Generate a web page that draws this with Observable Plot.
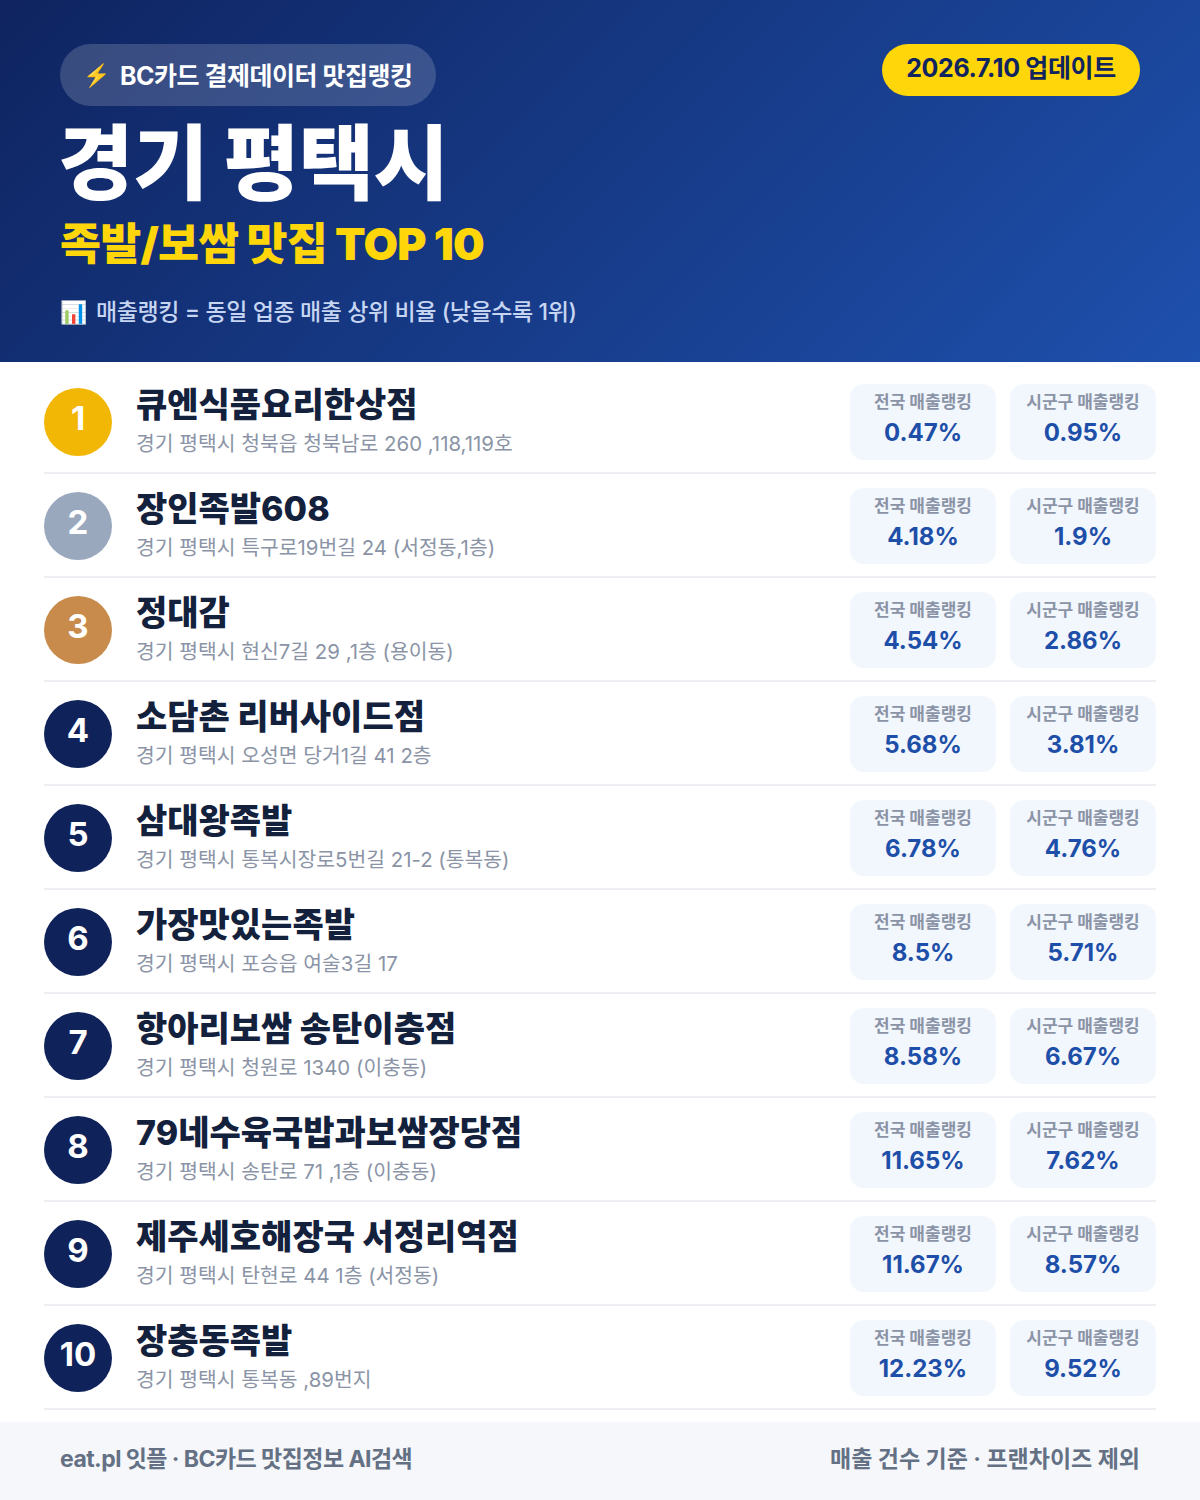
<!DOCTYPE html>
<html lang="ko">
<head>
<meta charset="utf-8">
<script src="https://cdn.jsdelivr.net/npm/d3@7"></script>
<script src="https://cdn.jsdelivr.net/npm/@observablehq/plot@0.6"></script>
<style>
  html,body{margin:0;padding:0;background:#fff;font-family:Inter,"Noto Sans CJK KR","Noto Sans",sans-serif;}
  #page{width:1200px;height:1500px;position:relative;overflow:hidden;}
  #head{position:absolute;left:0;top:0;width:1200px;height:362px;background:linear-gradient(135deg,#0f2460 0%,#1e50ad 100%);}
  #head div{position:absolute;white-space:nowrap;}
  #pill{left:60px;top:44px;width:376px;height:62px;border-radius:31px;background:rgba(255,255,255,.17);}
  #pillIcon{left:83px;top:58px;font-size:22px;line-height:34px;color:#ffc83d;}
  #pillText{left:120px;top:58px;font-size:25px;line-height:36px;font-weight:700;color:#fff;letter-spacing:-.5px;}
  #date{left:882px;top:44px;width:258px;height:52px;line-height:49px;border-radius:26px;background:#ffd60a;color:#10245f;font-size:25px;font-weight:700;text-align:center;letter-spacing:-.35px;}
  #title{left:58px;top:118px;font-size:82px;line-height:92px;font-weight:900;color:#fff;letter-spacing:-.5px;}
  #sub{left:60px;top:214px;font-size:44.6px;line-height:60px;font-weight:900;color:#ffd60a;letter-spacing:-.8px;}
  #noteIcon{left:60px;top:295px;font-size:22px;line-height:34px;}
  #note{left:96px;top:295px;font-size:23px;line-height:34px;font-weight:500;color:#c6d6f2;letter-spacing:-.4px;}
  #chart{position:absolute;left:0;top:362px;}
  #chart svg{display:block;}
  #foot{position:absolute;left:0;top:1422px;width:1200px;height:78px;background:#f5f7fb;color:#647084;font-size:23px;font-weight:700;line-height:75px;}
  #foot span{position:absolute;white-space:nowrap;}
</style>
</head>
<body>
<div id="page">
  <div id="head">
    <div id="pill"></div>
    <div id="pillIcon">⚡</div>
    <div id="pillText">BC카드 결제데이터 맛집랭킹</div>
    <div id="date">2026.7.10 업데이트</div>
    <div id="title">경기 평택시</div>
    <div id="sub">족발/보쌈 맛집 TOP 10</div>
    <div id="noteIcon">📊</div>
    <div id="note">매출랭킹 = 동일 업종 매출 상위 비율 (낮을수록 1위)</div>
  </div>
  <div id="chart"></div>
  <div id="foot">
    <span style="left:60px;letter-spacing:-.55px">eat.pl 잇플 · BC카드 맛집정보 AI검색</span>
    <span style="right:60px;letter-spacing:0">매출 건수 기준 · 프랜차이즈 제외</span>
  </div>
</div>
<script>
const ranks = [1,2,3,4,5,6,7,8,9,10];
const names = ["큐엔식품요리한상점","장인족발608","정대감","소담촌 리버사이드점","삼대왕족발","가장맛있는족발","항아리보쌈 송탄이충점","79네수육국밥과보쌈장당점","제주세호해장국 서정리역점","장충동족발"];
const addresses = ["경기 평택시 청북읍 청북남로 260 ,118,119호","경기 평택시 특구로19번길 24 (서정동,1층)","경기 평택시 현신7길 29 ,1층 (용이동)","경기 평택시 오성면 당거1길 41 2층","경기 평택시 통복시장로5번길 21-2 (통복동)","경기 평택시 포승읍 여술3길 17","경기 평택시 청원로 1340 (이충동)","경기 평택시 송탄로 71 ,1층 (이충동)","경기 평택시 탄현로 44 1층 (서정동)","경기 평택시 통복동 ,89번지"];
const nationalPct = ["0.47%","4.18%","4.54%","5.68%","6.78%","8.5%","8.58%","11.65%","11.67%","12.23%"];
const sigunguPct = ["0.95%","1.9%","2.86%","3.81%","4.76%","5.71%","6.67%","7.62%","8.57%","9.52%"];
const badgeColors = ["#f2b705","#9aa8be","#c98b4b","#0f2259","#0f2259","#0f2259","#0f2259","#0f2259","#0f2259","#0f2259"];
const cardLabels = ["전국 매출랭킹","시군구 매출랭킹"];

const rows = ranks.map((rank,i)=>({rank,name:names[i],address:addresses[i],national:nationalPct[i],sigungu:sigunguPct[i],color:badgeColors[i]}));
const FONT = 'Inter,"Noto Sans CJK KR","Noto Sans",sans-serif';
const CARD1 = [850,996], CARD2 = [1010,1156];
const mid = a => (a[0]+a[1])/2;

const cardMarks = (range,label,key) => [
  Plot.barX(rows,{x1:()=>range[0],x2:()=>range[1],y:"rank",fill:"#f2f6fd",insetTop:14,insetBottom:14,rx:14}),
  Plot.text(rows,{x:()=>mid(range),y:"rank",text:()=>label,dx:-0.5,dy:-20,fontSize:17,fontWeight:700,fill:"#8a94a6",fontFamily:FONT}),
  Plot.text(rows,{x:()=>mid(range),y:"rank",text:key,dx:-0.5,dy:11,fontSize:24,fontWeight:700,letterSpacing:"-0.4px",fill:"#1e4fa8",fontFamily:FONT})
];

const chart = Plot.plot({
  width:1200,height:1060,
  marginTop:0,marginRight:0,marginBottom:0,marginLeft:0,
  style:{background:"#fff",fontFamily:FONT},
  x:{domain:[0,1200],range:[0,1200],axis:null},
  y:{type:"band",domain:ranks,range:[8,1048],padding:0,axis:null},
  marks:[
    Plot.ruleY(rows,{y:"rank",x1:()=>44,x2:()=>1156,stroke:"#eceef2",strokeWidth:2,dy:50.5}),
    Plot.dot(rows,{x:()=>78,y:"rank",r:34,fill:"color",dx:-0.5,dy:-0.5}),
    Plot.text(rows,{x:()=>78,y:"rank",text:d=>String(d.rank),dx:-0.5,dy:-3,fontSize:33,fontWeight:700,fill:"#fff",fontFamily:FONT}),
    Plot.text(rows,{x:()=>136,y:"rank",text:"name",textAnchor:"start",dx:-0.5,dy:-16,fontSize:34,fontWeight:800,letterSpacing:"-0.2px",fill:"#14213d",fontFamily:FONT}),
    Plot.text(rows,{x:()=>136,y:"rank",text:"address",textAnchor:"start",dx:-0.5,dy:22,fontSize:20.4,fontWeight:400,fill:"#8a94a6",fontFamily:FONT}),
    ...cardMarks(CARD1,cardLabels[0],"national"),
    ...cardMarks(CARD2,cardLabels[1],"sigungu")
  ]
});
document.getElementById("chart").appendChild(chart);
</script>
</body>
</html>
